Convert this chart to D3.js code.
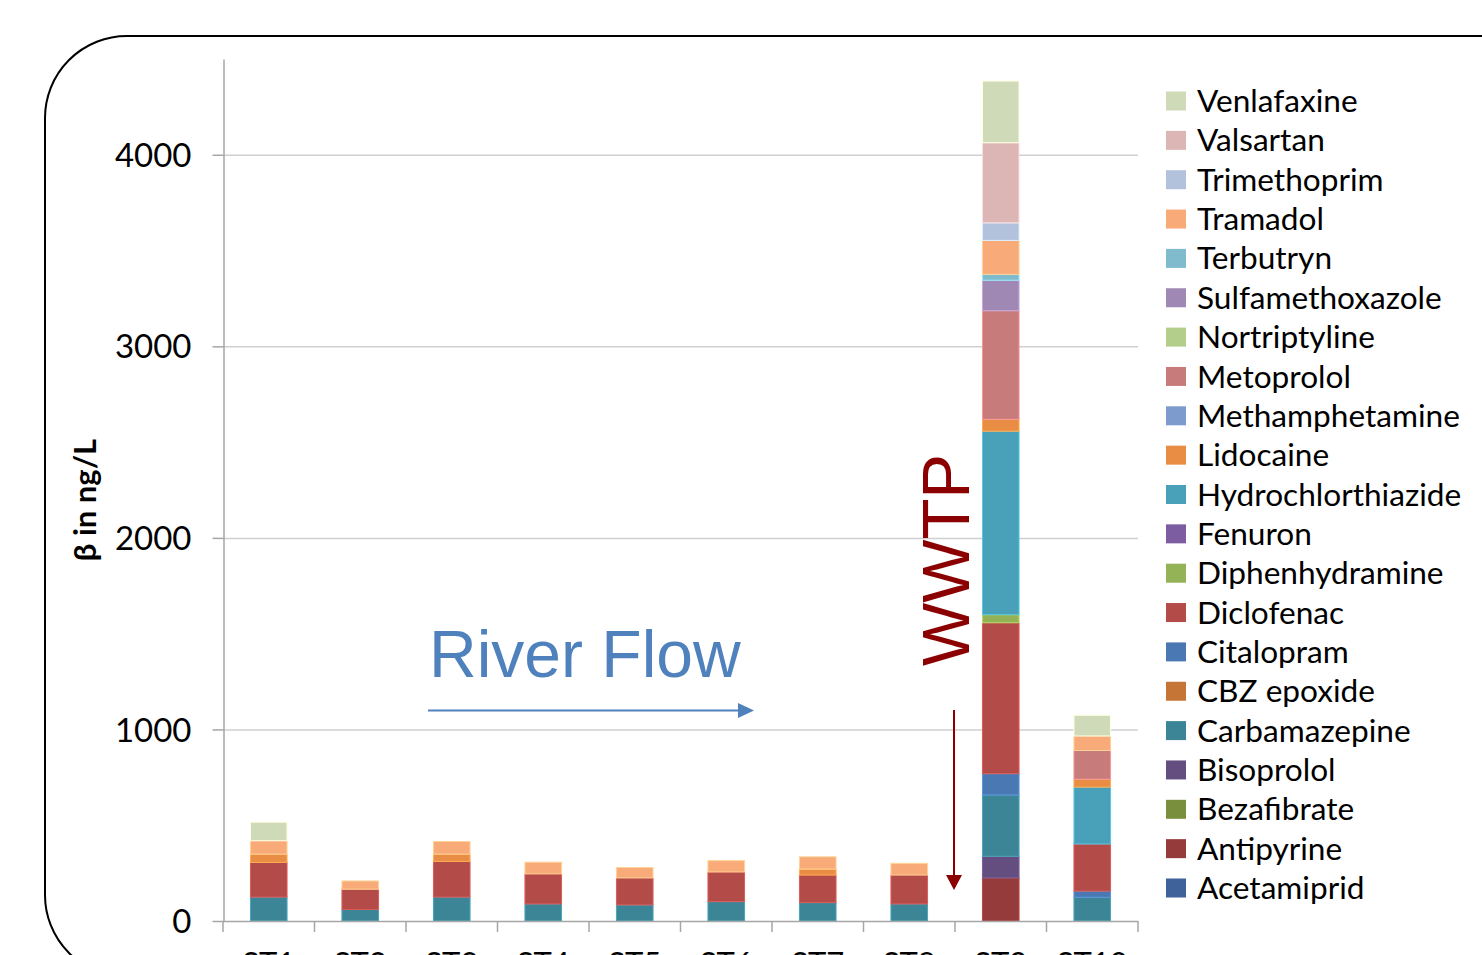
<!DOCTYPE html>
<html><head><meta charset="utf-8">
<script src="https://cdn.jsdelivr.net/npm/d3@7"></script>
<style>body{margin:0;background:#fff;overflow:hidden} svg{display:block}</style>
</head><body><svg id="c" width="1482" height="955"></svg>
<script>
// ---------- data ----------
const categories = ["ST1","ST2","ST3","ST4","ST5","ST6","ST7","ST8","ST9","ST10"];
// stack order: bottom -> top
const seriesNames = ["Acetamiprid","Antipyrine","Bezafibrate","Bisoprolol","Carbamazepine","CBZ epoxide",
  "Citalopram","Diclofenac","Diphenhydramine","Fenuron","Hydrochlorthiazide","Lidocaine","Methamphetamine",
  "Metoprolol","Nortriptyline","Sulfamethoxazole","Terbutryn","Tramadol","Trimethoprim","Valsartan","Venlafaxine"];
const seriesColors = ["#3f629b","#953b3b","#7a8f3e","#644e7f","#3b8597","#c57535",
  "#4a78b2","#b34b48","#94b256","#7c5da1","#48a1b8","#e98d44","#7d9bcc",
  "#c87b7b","#b3cd8a","#9f89b4","#7fbbcc","#f8aa78","#b3c2dc","#dcb5b5","#cfdbb8"];
const acetamiprid       = [0,0,0,0,0,0,0,0,0,0];
const antipyrine        = [0,0,0,0,0,0,0,0,225,0];
const bezafibrate       = [0,0,0,0,0,0,0,0,0,0];
const bisoprolol        = [0,0,0,0,0,0,0,0,113,0];
const carbamazepine     = [125,60,125,89,84,101,96,89,320,124];
const cbzEpoxide        = [0,0,0,0,0,0,0,0,0,0];
const citalopram        = [0,0,0,0,0,0,0,0,111,32];
const diclofenac        = [181,106,186,157,141,155,144,151,788,246];
const diphenhydramine   = [0,0,0,0,0,0,0,0,42,0];
const fenuron           = [0,0,0,0,0,0,0,0,0,0];
const hydrochlorthiazide= [0,0,0,0,0,0,0,0,958,297];
const lidocaine         = [43,0,38,0,0,0,31,0,62,41];
const methamphetamine   = [0,0,0,0,0,0,0,0,0,0];
const metoprolol        = [0,0,0,0,0,0,0,0,567,150];
const nortriptyline     = [0,0,0,0,0,0,0,0,0,0];
const sulfamethoxazole  = [0,0,0,0,0,0,0,0,159,0];
const terbutryn         = [0,0,0,0,0,0,0,0,31,0];
const tramadol          = [70,43,66,61,54,59,64,61,177,76];
const trimethoprim      = [0,0,0,0,0,0,0,0,92,0];
const valsartan         = [0,0,0,0,0,0,0,0,418,0];
const venlafaxine       = [97,0,0,0,0,0,0,0,322,108];
const seriesValues = [acetamiprid,antipyrine,bezafibrate,bisoprolol,carbamazepine,cbzEpoxide,citalopram,
  diclofenac,diphenhydramine,fenuron,hydrochlorthiazide,lidocaine,methamphetamine,metoprolol,nortriptyline,
  sulfamethoxazole,terbutryn,tramadol,trimethoprim,valsartan,venlafaxine];
const yTicks = [0,1000,2000,3000,4000];
const yMax = 4500;
const yTitle = "β in ng/L";

// ---------- chart ----------
const svg = d3.select("#c");
const FONT = "Lato, 'Open Sans', sans-serif";

// rounded frame
svg.append("rect").attr("x",45).attr("y",36).attr("width",1520).attr("height",941)
  .attr("rx",82).attr("ry",82).attr("fill","none").attr("stroke","#000").attr("stroke-width",2);

const x = d3.scaleBand().domain(categories).range([223,1138]).paddingInner(0.6).paddingOuter(0.3);
const y = d3.scaleLinear().domain([0,yMax]).range([921,59]);

// gridlines
svg.append("g").selectAll("line").data(yTicks.filter(d=>d>0)).join("line")
  .attr("x1",223).attr("x2",1138).attr("y1",d=>y(d)+0.5).attr("y2",d=>y(d)+0.5)
  .attr("stroke","#d0d0d0").attr("stroke-width",1.5);

// stacked data
const rows = categories.map((c,i)=>{const r={cat:c}; seriesNames.forEach((n,k)=>r[n]=seriesValues[k][i]); return r;});
const stack = d3.stack().keys(seriesNames)(rows);

svg.append("g").selectAll("g").data(stack).join("g")
  .attr("fill",(d,i)=>seriesColors[i])
  .attr("stroke",(d,i)=>d3.color(seriesColors[i]).brighter(0.6))
  .attr("stroke-width",1)
  .selectAll("rect").data(d=>d.filter(s=>s[1]-s[0]>0)).join("rect")
  .attr("x",d=>x(d.data.cat)).attr("width",x.bandwidth())
  .attr("y",d=>y(d[1])).attr("height",d=>y(d[0])-y(d[1]));

// y axis
const yAxis = d3.axisLeft(y).tickValues(yTicks).tickFormat(d3.format("d"))
  .tickSize(11).tickPadding(21).tickSizeOuter(0);
const gy = svg.append("g").attr("transform","translate(223.5,0)").call(yAxis);
gy.select(".domain").attr("stroke","#a6a6a6").attr("stroke-width",1.5);
gy.selectAll(".tick line").attr("stroke","#a6a6a6").attr("stroke-width",1.5);
gy.selectAll(".tick text").attr("font-family",FONT).attr("font-size",33).attr("fill","#000").attr("dy","0.35em");

// x axis line and boundary ticks
const step = x.step();
const boundaries = d3.range(categories.length+1).map(i=>x.range()[0]+i*step);
svg.append("line").attr("x1",223).attr("x2",1138).attr("y1",921.5).attr("y2",921.5)
  .attr("stroke","#a6a6a6").attr("stroke-width",1.5);
svg.append("g").selectAll("line").data(boundaries).join("line")
  .attr("x1",d=>d).attr("x2",d=>d).attr("y1",921).attr("y2",932)
  .attr("stroke","#a6a6a6").attr("stroke-width",1.5);
svg.append("g").selectAll("text").data(categories).join("text")
  .attr("x",d=>x(d)+x.bandwidth()/2).attr("y",974).attr("text-anchor","middle")
  .attr("font-family",FONT).attr("font-size",31).attr("fill","#000").text(d=>d);

// y title
svg.append("text").attr("transform","translate(96,500) rotate(-90)").attr("text-anchor","middle")
  .attr("font-family",FONT).attr("font-weight","bold").attr("font-size",31).attr("fill","#000").text(yTitle);

// legend
const legend = svg.append("g");
const legNames = seriesNames.slice().reverse();
const legColors = seriesColors.slice().reverse();
legNames.forEach((n,i)=>{
  const cy = 101 + i*39.35;
  legend.append("rect").attr("x",1166).attr("y",cy-9.5).attr("width",20).attr("height",19).attr("fill",legColors[i]);
  legend.append("text").attr("x",1197).attr("y",cy).attr("dy","0.35em")
    .attr("font-family",FONT).attr("font-size",31.6).attr("fill","#000").text(n);
});

// River Flow annotation
svg.append("text").attr("x",429).attr("y",677).attr("font-family","'Liberation Sans', Arial, sans-serif")
  .attr("font-size",66).attr("fill","#4f81bd").text("River Flow");
svg.append("line").attr("x1",428).attr("x2",740).attr("y1",710.5).attr("y2",710.5)
  .attr("stroke","#4f81bd").attr("stroke-width",2);
svg.append("path").attr("d","M738,703 L754,710.5 L738,718 Z").attr("fill","#4f81bd");

// WWTP annotation
svg.append("text").attr("transform","translate(969,560) rotate(-90)").attr("text-anchor","middle")
  .attr("font-family","'Liberation Sans', Arial, sans-serif").attr("font-size",67).attr("fill","#8b0000").text("WWTP");
svg.append("line").attr("x1",954).attr("x2",954).attr("y1",710).attr("y2",878)
  .attr("stroke","#8b0000").attr("stroke-width",2);
svg.append("path").attr("d","M946,875 L954,890 L962,875 Z").attr("fill","#8b0000");
</script></body></html>
